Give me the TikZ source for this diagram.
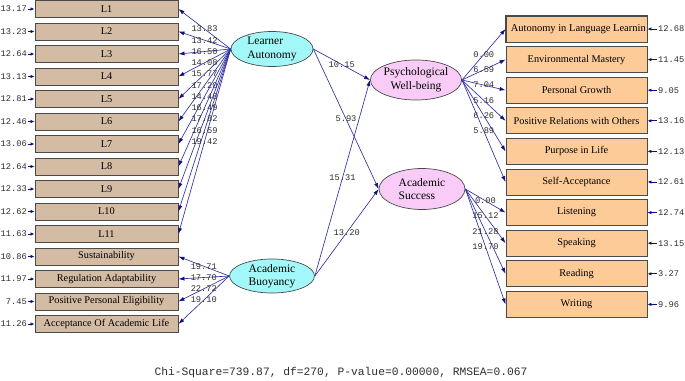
\documentclass[tikz,border=0pt]{standalone}
\usepackage{fontspec}
\setmainfont{Liberation Serif}
\setmonofont{Liberation Mono}
\usetikzlibrary{arrows.meta, shapes.geometric}
\definecolor{pathblue}{HTML}{3030A0}
\definecolor{tipnavy}{HTML}{10107A}
\definecolor{tanbox}{HTML}{D3BBA4}
\definecolor{peachbox}{HTML}{FDCB98}
\definecolor{latcyan}{HTML}{A2F8F8}
\definecolor{latpink}{HTML}{F8CCF6}
\definecolor{boxedge}{HTML}{4A4A4A}
\definecolor{numgray}{HTML}{2E2E2E}

\begin{document}
\begin{tikzpicture}[x=1pt, y=-1pt,
  obsleft/.style={draw=boxedge, line width=0.9pt, fill=tanbox, minimum width=143pt,
    minimum height=17pt, inner sep=0pt, font=\fontsize{10.3}{12}\selectfont},
  obsright/.style={obsleft, fill=peachbox, minimum width=141pt, minimum height=26pt},
  latent/.style={ellipse, draw=boxedge, line width=0.7pt, inner sep=0pt, align=left,
    font=\fontsize{11.5}{13.5}\selectfont},
  load/.style={pathblue, line width=0.65pt, -{Latex[length=6pt, width=4pt, color=tipnavy]}},
  errarrow/.style={tipnavy, line width=1pt, -{Latex[length=4pt, width=3.5pt]}},
  coef/.style={text=numgray, font=\ttfamily\fontsize{8.7}{10}\selectfont, inner sep=0pt},
  errnum/.style={coef, inner sep=1pt}]

\useasboundingbox (0,0) rectangle (685,380);

% Latent variables
\node[latent, fill=latcyan, minimum width=82pt, minimum height=35pt] (la) at (272,49) {Learner\\Autonomy};
\node[latent, fill=latcyan, minimum width=85pt, minimum height=34pt] (ab) at (272,276) {Academic\\Buoyancy};
\node[latent, fill=latpink, minimum width=88pt, minimum height=40pt, align=center] (pw) at (416,80) {Psychological\\Well-being};
\node[latent, fill=latpink, minimum width=86pt, minimum height=41pt] (as) at (422,189) {Academic\\Success};

% Learner Autonomy indicators
\foreach \nm/\txt/\ld/\err [count=\i] in {l1/L1/13.83/13.17, l2/L2/13.42/13.23, l3/L3/16.50/12.64,
    l4/L4/14.08/13.13, l5/L5/15.77/12.81, l6/L6/17.20/12.46, l7/L7/14.48/13.06, l8/L8/16.49/12.64,
    l9/L9/17.82/12.33, l10/L10/16.59/12.62, l11/L11/19.42/11.63} {
  \node[obsleft] (\nm) at (106.5,{9+22.5*(\i-1)}) {\txt};
  \node[errnum, anchor=east] (e\nm) at (28,{9+22.5*(\i-1)}) {\err};
  \draw[errarrow] (e\nm.east) -- (\nm.west);
  \draw[load] (la.west) -- node[coef] {\ld} (\nm.east);
}

% Academic Buoyancy indicators
\foreach \nm/\txt/\ld/\err [count=\i from 12] in {sus/Sustainability/19.71/10.86,
    reg/Regulation Adaptability/17.70/11.97, ppe/Positive Personal Eligibility/22.72/7.45,
    aal/Acceptance Of Academic Life/19.10/11.26} {
  \node[obsleft] (\nm) at (106.5,{9+22.5*(\i-1)}) {\txt};
  \node[errnum, anchor=east] (e\nm) at (28,{9+22.5*(\i-1)}) {\err};
  \draw[errarrow] (e\nm.east) -- (\nm.west);
  \draw[load] (ab.west) -- node[coef] {\ld} (\nm.east);
}

% Psychological Well-being indicators
\node[obsright] (all) at (576.5,29) {};
\begin{scope}
  \clip ([xshift=0.5pt]all.south west) rectangle ([xshift=-1.5pt]all.north east);
  \node[font=\fontsize{10.5}{12}\selectfont, inner sep=0pt, anchor=west] (allt) at ([xshift=5pt]all.west) {Autonomy in Language Learning};
\end{scope}
\draw[boxedge, line width=0.9pt] (all.south west) rectangle (all.north east);
\node[errnum, anchor=west] (eall) at (657,29) {12.68};
\draw[errarrow] (eall.west) -- (all.east);
\draw[load] (pw.east) -- node[coef] {0.00} (all.west);
\foreach \nm/\txt/\ld/\err [count=\i from 2] in {em/Environmental Mastery/6.59/11.45,
    pg/Personal Growth/7.04/9.05, prw/Positive Relations with Others/5.16/13.16,
    pil/Purpose in Life/6.26/12.13, sa/Self-Acceptance/5.89/12.61} {
  \node[obsright] (\nm) at (576.5,{29+30.6*(\i-1)}) {\txt};
  \node[errnum, anchor=west] (e\nm) at (657,{29+30.6*(\i-1)}) {\err};
  \draw[errarrow] (e\nm.west) -- (\nm.east);
  \draw[load] (pw.east) -- node[coef] {\ld} (\nm.west);
}

% Academic Success indicators
\foreach \nm/\txt/\ld/\err [count=\i from 7] in {lis/Listening/0.00/12.74,
    spk/Speaking/15.12/13.15, rdg/Reading/21.28/3.27, wrt/Writing/19.70/9.96} {
  \node[obsright] (\nm) at (576.5,{29+30.6*(\i-1)}) {\txt};
  \node[errnum, anchor=west] (e\nm) at (657,{29+30.6*(\i-1)}) {\err};
  \draw[errarrow] (e\nm.west) -- (\nm.east);
  \draw[load] (as.east) -- node[coef] {\ld} (\nm.west);
}

% Structural paths
\draw[load] (la.east) -- node[coef] {10.15} (pw.west);
\draw[load] (la.east) -- node[coef] {5.93} (as.west);
\draw[load] (ab.east) -- node[coef] {15.31} (pw.west);
\draw[load] (ab.east) -- node[coef] {13.20} (as.west);

% Fit statistics
\node[text=numgray, font=\ttfamily\fontsize{11.3}{13}\selectfont] (fit) at (341,373)
  {Chi-Square=739.87, df=270, P-value=0.00000, RMSEA=0.067};

\end{tikzpicture}
\end{document}
